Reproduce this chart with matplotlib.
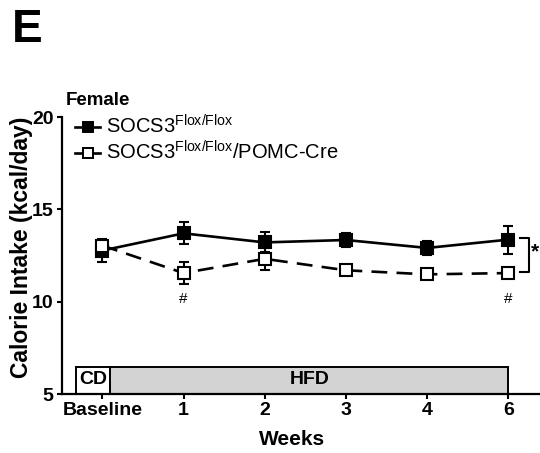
import matplotlib
matplotlib.use("Agg")
import matplotlib.pyplot as plt
from matplotlib.patches import Rectangle
from matplotlib.lines import Line2D

plt.rcParams['font.family'] = ['Liberation Sans', 'DejaVu Sans']
plt.rcParams['mathtext.fontset'] = 'custom'
plt.rcParams['mathtext.rm'] = 'Liberation Sans'
plt.rcParams['mathtext.it'] = 'Liberation Sans'
plt.rcParams['mathtext.bf'] = 'Liberation Sans:bold'

# ---- data ----
categories = ['Baseline', '1', '2', '3', '4', '6']
ctrl_mean = [12.77, 13.70, 13.21, 13.34, 12.91, 13.36]
ctrl_err = [0.61, 0.60, 0.54, 0.40, 0.40, 0.76]
ko_mean = [13.04, 11.55, 12.32, 11.70, 11.48, 11.55]
ko_err = [0.27, 0.58, 0.63, 0.24, 0.22, 0.15]
sig_hash_idx = [1, 5]
phase_labels = ['CD', 'HFD']
phase_start = [-0.32, 0.10]
phase_end = [0.10, 5.0]
phase_colors = ['white', '#d3d3d3']
phase_top = 6.45

ctrl_label = r'SOCS3$^{\mathregular{Flox/Flox}}$'
ko_label = r'SOCS3$^{\mathregular{Flox/Flox}}$/POMC-Cre'

fig = plt.figure(figsize=(5.4, 4.53), dpi=100)
ax = fig.add_axes([0.1143, 0.1302, 0.8857, 0.6115])

x = list(range(len(categories)))

ax.errorbar(x, ctrl_mean, yerr=ctrl_err, color='black', lw=1.9,
            marker='s', markersize=8.8, markerfacecolor='black',
            markeredgecolor='black', markeredgewidth=1.5,
            capsize=3.6, elinewidth=1.5, capthick=1.5, zorder=3)
line_ko = ax.errorbar(x, ko_mean, yerr=ko_err, color='black', lw=1.9,
                      marker='s', markersize=8.8, markerfacecolor='white',
                      markeredgecolor='black', markeredgewidth=1.5,
                      capsize=3.6, elinewidth=1.5, capthick=1.5, zorder=4)
line_ko[0].set_dashes((6, 3.5))

# diet phase bar
for lab, s, e, c in zip(phase_labels, phase_start, phase_end, phase_colors):
    ax.add_patch(Rectangle((s, 5), e - s, phase_top - 5, facecolor=c,
                           edgecolor='black', lw=1.4, zorder=2, clip_on=False))
    ax.text((s + e) / 2, (5 + phase_top) / 2 + 0.05, lab, ha='center', va='center',
            fontsize=14, fontweight='bold', zorder=5)

# significance marks
for i in sig_hash_idx:
    ax.text(x[i], 10.13, '#', ha='center', va='center', fontsize=11)

bx0, bx1 = 5.14, 5.25
btop = ctrl_mean[-1] + 0.1
bbot = ko_mean[-1] + 0.05
ax.plot([bx0, bx1, bx1, bx0], [btop, btop, bbot, bbot], color='black',
        lw=1.5, clip_on=False)
ax.text(5.325, (btop + bbot) / 2 + 0.15, '*', ha='center', va='center',
        fontsize=15, fontweight='bold', clip_on=False)

ax.set_xlim(-0.5, 5.39)
ax.set_ylim(5, 20)
ax.set_xticks(x)
ax.set_xticklabels(categories)
ax.set_yticks([5, 10, 15, 20])
for sp in ['top', 'right']:
    ax.spines[sp].set_visible(False)
for sp in ['left', 'bottom']:
    ax.spines[sp].set_linewidth(1.6)
ax.tick_params(axis='both', width=1.5, length=3.5, labelsize=14, pad=2.5)
for lab in ax.get_xticklabels() + ax.get_yticklabels():
    lab.set_fontweight('bold')

ax.set_xlabel('Weeks', fontsize=15, fontweight='bold')
ax.xaxis.label.set_va('baseline')
ax.xaxis.set_label_coords(0.4825, -0.185)

fig.text(0.039, 0.455, 'Calorie Intake (kcal/day)', rotation=90, ha='center',
         va='center', fontsize=16.5, fontweight='bold')

# title / panel letter
fig.text(0.022, 1 - 42 / 453, 'E', fontsize=33, fontweight='bold', ha='left',
         va='baseline')
fig.text(0.122, 1 - 105 / 453, 'Female', fontsize=13.5, fontweight='bold',
         ha='left', va='baseline')

# manual legend
rows = [(127, 134, 'black', ctrl_label), (153, 159.5, 'white', ko_label)]
for yc, yb, fc, lab in rows:
    yf = 1 - yc / 453
    fig.add_artist(Line2D([75 / 540, 100 / 540], [yf, yf], color='black', lw=1.9,
                          transform=fig.transFigure))
    fig.add_artist(Line2D([87.5 / 540], [yf], color='black', marker='s',
                          markersize=6.5, markerfacecolor=fc, markeredgewidth=1.4,
                          transform=fig.transFigure))
    fig.text(106 / 540, 1 - yb / 453, lab, fontsize=14.5, ha='left', va='baseline')

fig.savefig('out.png', dpi=100)
